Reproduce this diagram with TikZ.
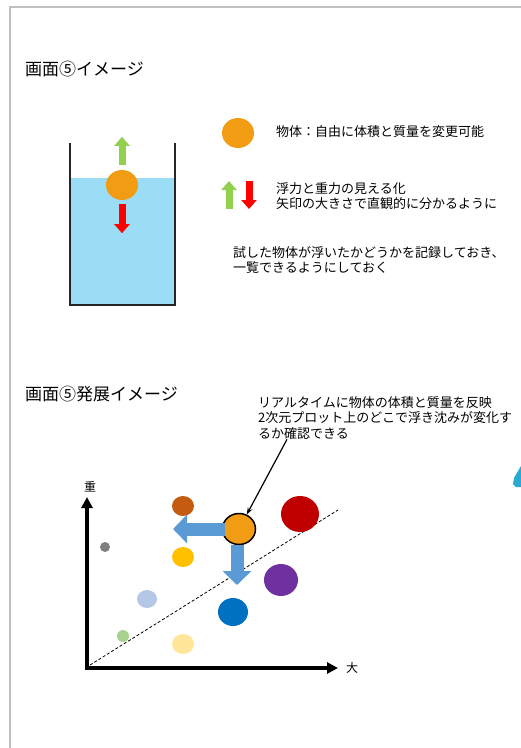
\documentclass[tikz,border=0pt]{standalone}
\usepackage{fontspec}
\setmainfont{Noto Sans CJK JP}
\usetikzlibrary{arrows.meta,positioning,shapes.geometric}
\usepackage{xcolor}

\definecolor{pageedge}{RGB}{192,192,192}
\definecolor{water}{RGB}{155,221,246}
\definecolor{ballorange}{RGB}{241,156,18}
\definecolor{upgreen}{RGB}{146,208,80}
\definecolor{downred}{RGB}{255,0,0}
\definecolor{moveblue}{RGB}{91,155,213}
\definecolor{ptbrown}{RGB}{197,90,17}
\definecolor{ptred}{RGB}{192,0,0}
\definecolor{ptgray}{RGB}{127,127,127}
\definecolor{ptyellow}{RGB}{255,192,0}
\definecolor{ptpurple}{RGB}{112,48,160}
\definecolor{ptpaleblue}{RGB}{180,199,231}
\definecolor{ptblue}{RGB}{0,112,192}
\definecolor{ptpalegreen}{RGB}{169,209,142}
\definecolor{ptpaleyellow}{RGB}{255,230,153}
\definecolor{edgecyan}{RGB}{40,170,210}

\begin{document}
\begin{tikzpicture}[x=1pt, y=-1pt,
    every node/.style={
        inner sep=0pt,
        font=\fontsize{13}{15.5}\selectfont
    },
    heading/.style={anchor=west, font=\fontsize{17}{20}\selectfont},
    ball/.style={ellipse, inner sep=0pt, fill=#1},
    forceup/.style={upgreen, line width=7pt, -{Triangle[width=15pt,length=9pt]}},
    forcedown/.style={downred, line width=7pt, -{Triangle[width=15pt,length=9pt]}},
    movearrow/.style={moveblue, line width=13pt, -{Triangle[width=28pt,length=14pt]}},
    axisline/.style={line width=4pt, line join=miter, {Triangle[width=11pt,length=11pt]}-{Triangle[width=11pt,length=11pt]}}
]
    \useasboundingbox (0,0) rectangle (521,748);
    \draw[pageedge, line width=2pt] (10,748) -- (10,7) -- (521,7);
    \fill[edgecyan] (521,466) -- (514,478) -- (513,484) -- (516,487) -- (521,487) -- cycle;

    % first screen
    \node (title) [heading] at (25,69) {画面⑤イメージ};

    \fill[water] (70,178) rectangle (175,305);
    \draw[line width=2pt, black!85] (70,143) -- (70,305) -- (175,305) -- (175,143);
    \node (beaker_ball) [ball=ballorange, minimum width=32pt, minimum height=30pt] at (122,185) {};
    \draw[forceup] ([yshift=5pt]beaker_ball.north) -- ++(0,-28);
    \draw[forcedown] ([yshift=-4pt]beaker_ball.south) -- ++(0,29);

    \node (legend_ball) [ball=ballorange, minimum width=32pt, minimum height=30pt] at (238,133) {};
    \node (object_text) [anchor=west] at (276,132)
    {
        物体：自由に体積と質量を変更可能
    };
    \coordinate (legend_up) at (229,209);
    \coordinate (legend_down) at (249,181);
    \draw[forceup] (legend_up) -- ++(0,-28);
    \draw[forcedown] (legend_down) -- ++(0,28);
    \node (force_text) [anchor=north west, align=left] at (276,182)
    {
        浮力と重力の見える化\\矢印の大きさで直観的に分かるように
    };
    \node (record_text) [anchor=north west, align=left] at (233,246)
    {
        試した物体が浮いたかどうかを記録しておき、\\一覧できるようにしておく
    };

    % second screen
    \node (title_dev) [heading] at (25,394) {画面⑤発展イメージ};
    \node (callout) [anchor=north west, align=left] at (258,396)
    {
        リアルタイムに物体の体積と質量を反映\\2次元プロット上のどこで浮き沈みが変化す\\るか確認できる
    };

    \coordinate (origin) at (87,668);
    \coordinate (y_tip) at (87,497);
    \coordinate (x_tip) at (338,668);
    \draw[axisline] (y_tip) -- (origin) -- (x_tip);
    \node (y_label) [font=\fontsize{12}{14}\selectfont] at (90,487) {重};
    \node (x_label) [font=\fontsize{12}{14}\selectfont] at (352,668) {大};
    \draw[line width=0.8pt, dash pattern=on 3pt off 2pt] (90,665) -- (338,510);

    \node (pt_brown) [ball=ptbrown, minimum width=22pt, minimum height=20pt] at (183,506) {};
    \node (pt_red) [ball=ptred, minimum width=38pt, minimum height=36pt] at (300,514) {};
    \node (pt_gray) [ball=ptgray, minimum size=10pt] at (105,547) {};
    \node (pt_yellow) [ball=ptyellow, minimum width=22pt, minimum height=20pt] at (183,557) {};
    \node (pt_purple) [ball=ptpurple, minimum width=34pt, minimum height=32pt] at (281,580) {};
    \node (pt_paleblue) [ball=ptpaleblue, minimum width=20pt, minimum height=18pt] at (147,599) {};
    \node (pt_blue) [ball=ptblue, minimum width=30pt, minimum height=28pt] at (233,612) {};
    \node (pt_palegreen) [ball=ptpalegreen, minimum size=12pt] at (123,636) {};
    \node (pt_paleyellow) [ball=ptpaleyellow, minimum width=22pt, minimum height=20pt] at (183,644) {};
    \node (pt_current) [ball=ballorange, draw=black, line width=1.5pt, minimum width=33pt, minimum height=31pt] at (239,529) {};

    \coordinate (left_tip) at (173,529);
    \coordinate (down_tip) at (237,585);
    \draw[movearrow] ([xshift=3pt]pt_current.west) -- (left_tip);
    \draw[movearrow] ([xshift=-2pt]pt_current.south) -- (down_tip);
    \draw[line width=1.2pt, -{Stealth[length=7pt,width=5pt]}] ([xshift=29pt]callout.south west) -- (pt_current);
\end{tikzpicture}
\end{document}
